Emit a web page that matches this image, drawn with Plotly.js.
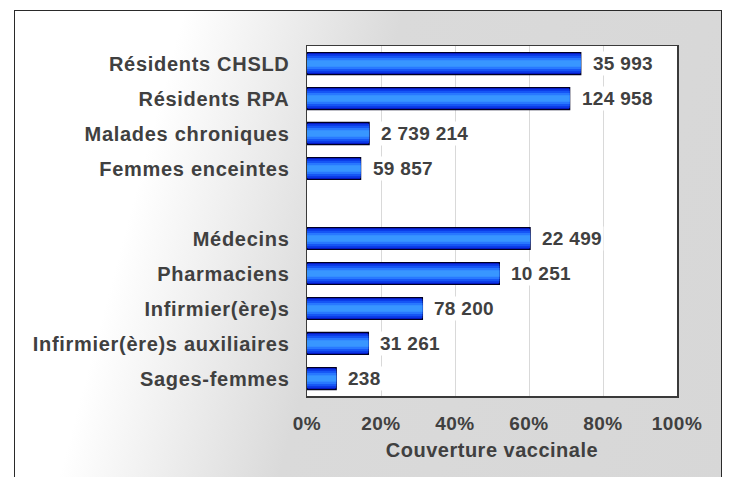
<!DOCTYPE html>
<html>
<head>
<meta charset="utf-8">
<script src="https://cdn.plot.ly/plotly-3.0.1.min.js"></script>
<style>
  html, body { margin: 0; padding: 0; background: #ffffff; }
  #wrap { position: relative; width: 729px; height: 477px; overflow: hidden; }
  #bg {
    position: absolute; left: 14px; top: 10px; width: 706px; height: 520px;
    border: 1.5px solid #2a2a2a;
    background: linear-gradient(105deg, #ffffff 0%, #ffffff 20%, #dadada 46%, #d7d7d7 100%);
  }
  #chart { position: absolute; left: 0; top: 0; width: 729px; height: 477px; }
  .ytick text { letter-spacing: 0.7px; }
  .xtick text { letter-spacing: 0.5px; }
  .g-xtitle text { letter-spacing: 0.5px; }
  .annotation-text { letter-spacing: 0.3px; }
</style>
</head>
<body>
<div id="wrap">
  <div id="bg"></div>
  <div id="chart"></div>
</div>
<script>
// Categories (top to bottom); the blank entry is the gap between the two groups
const categories = [
  "Résidents CHSLD",
  "Résidents RPA",
  "Malades chroniques",
  "Femmes enceintes",
  " ",
  "Médecins",
  "Pharmaciens",
  "Infirmier(ère)s",
  "Infirmier(ère)s auxiliaires",
  "Sages-femmes"
];
// Vaccination coverage (%)
const coverage = [74.0, 71.0, 16.8, 14.5, null, 60.3, 52.0, 31.2, 16.6, 7.9];
// Population counts shown next to each bar
const countLabels = ["35 993", "124 958", "2 739 214", "59 857", "", "22 499", "10 251", "78 200", "31 261", "238"];
// X axis ticks
const tickValues = [0, 20, 40, 60, 80, 100];
const tickLabels = ["0%", "20%", "40%", "60%", "80%", "100%"];

const textColor = "#404040";
const fontFam = "Liberation Sans, Arial, sans-serif";

// Layered bars to imitate the cylindrical blue gradient
const layers = [
  { width: 0.63, color: "#0618c0", line: { color: "#000022", width: 1.2 } },
  { width: 0.54, color: "#0a36e4", line: { width: 0 } },
  { width: 0.44, color: "#1656f6", line: { width: 0 } },
  { width: 0.32, color: "#2878ff", line: { width: 0 } },
  { width: 0.18, color: "#3896ff", line: { width: 0 } }
];

const traces = layers.map(l => ({
  type: "bar",
  orientation: "h",
  y: categories,
  x: coverage,
  width: categories.map(() => l.width),
  marker: { color: l.color, line: l.line },
  hoverinfo: "skip",
  showlegend: false
}));

const annotations = categories.map((c, i) => coverage[i] === null ? null : ({
  x: coverage[i],
  y: c,
  xref: "x",
  yref: "y",
  text: countLabels[i],
  showarrow: false,
  xanchor: "left",
  yanchor: "middle",
  xshift: 10,
  bgcolor: "#ffffff",
  borderpad: 1,
  font: { family: fontFam, size: 19, color: textColor, weight: "bold" }
})).filter(a => a);

const layout = {
  width: 729,
  height: 477,
  margin: { l: 307, r: 52, t: 46, b: 81, pad: 0 },
  paper_bgcolor: "rgba(0,0,0,0)",
  plot_bgcolor: "#ffffff",
  barmode: "overlay",
  font: { family: fontFam, size: 19, color: textColor, weight: "bold" },
  xaxis: {
    range: [0, 100],
    tickvals: tickValues,
    ticktext: tickLabels,
    showgrid: true,
    gridcolor: "#d9d9d9",
    gridwidth: 1,
    zeroline: false,
    showline: true,
    mirror: true,
    linecolor: "#3a3a3a",
    linewidth: 1.5,
    ticks: "",
    ticklabelstandoff: 10,
    tickfont: { family: fontFam, size: 19, color: textColor, weight: "bold" },
    title: {
      text: "Couverture vaccinale",
      standoff: 9,
      font: { family: fontFam, size: 20, color: textColor, weight: "bold" }
    },
    fixedrange: true
  },
  yaxis: {
    type: "category",
    categoryorder: "array",
    categoryarray: categories,
    autorange: "reversed",
    showgrid: false,
    zeroline: false,
    showline: true,
    mirror: true,
    linecolor: "#3a3a3a",
    linewidth: 1.5,
    ticks: "",
    ticklabelstandoff: 12,
    tickfont: { family: fontFam, size: 20, color: textColor, weight: "bold" },
    fixedrange: true
  },
  annotations: annotations
};

Plotly.newPlot("chart", traces, layout, { displayModeBar: false, staticPlot: true });
</script>
</body>
</html>
